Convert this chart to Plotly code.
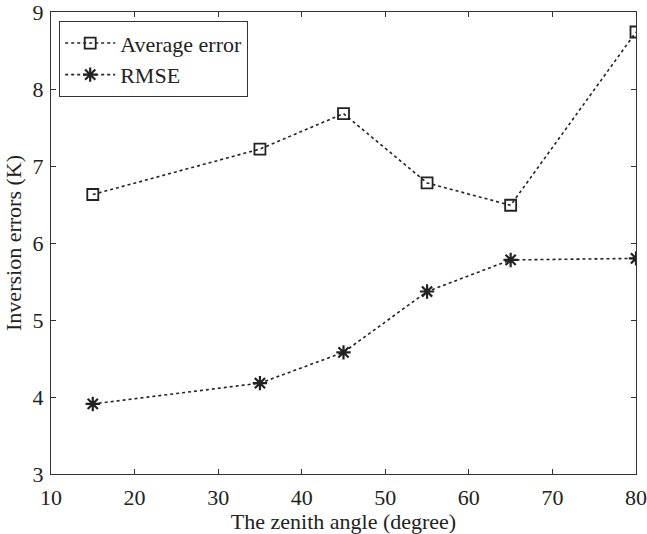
import plotly.graph_objects as go

zenith = [15, 35, 45, 55, 65, 80]
avg_error = [6.63, 7.22, 7.68, 6.78, 6.49, 8.74]
rmse = [3.91, 4.18, 4.58, 5.37, 5.78, 5.80]

FONT = "Liberation Serif, Times New Roman, serif"
INK = "#222"

fig = go.Figure()
fig.add_trace(go.Scatter(
    x=zenith, y=avg_error, name="Average error", mode="lines+markers",
    line=dict(color=INK, width=1.6, dash="dot"),
    marker=dict(symbol="square-open", size=11, color=INK, line=dict(width=1.8, color=INK)),
))
fig.add_trace(go.Scatter(
    x=zenith, y=rmse, name="RMSE", mode="lines+markers",
    line=dict(color=INK, width=1.6, dash="dot"),
    marker=dict(symbol="asterisk-open", size=12, color=INK, line=dict(width=2.2, color=INK)),
))

axis_common = dict(
    showgrid=False, zeroline=False, showline=True, linecolor="#333", linewidth=1.2,
    mirror="allticks", ticks="inside", ticklen=5, tickcolor="#333",
    tickfont=dict(family=FONT, size=22, color=INK), ticklabeloverflow="allow",
    automargin=False,
)
fig.update_xaxes(range=[10, 80], dtick=10, ticklabelstandoff=3,
                 title=dict(text="The zenith angle (degree)", font=dict(family=FONT, size=22, color=INK), standoff=0),
                 **axis_common)
fig.update_yaxes(range=[3, 9], dtick=1, ticklabelstandoff=2,
                 title=dict(text="Inversion errors (K)", font=dict(family=FONT, size=22, color=INK), standoff=4),
                 **axis_common)

fig.update_layout(
    width=647, height=534,
    margin=dict(l=51, r=11, t=12, b=60),
    plot_bgcolor="white", paper_bgcolor="white",
    font=dict(family=FONT, color=INK),
    legend=dict(x=0.014, y=0.98, xanchor="left", yanchor="top",
                bordercolor="#333", borderwidth=1, bgcolor="white",
                font=dict(family=FONT, size=22, color=INK),
                tracegroupgap=0, itemwidth=50),
    showlegend=True,
)

fig.write_html("out.html")
